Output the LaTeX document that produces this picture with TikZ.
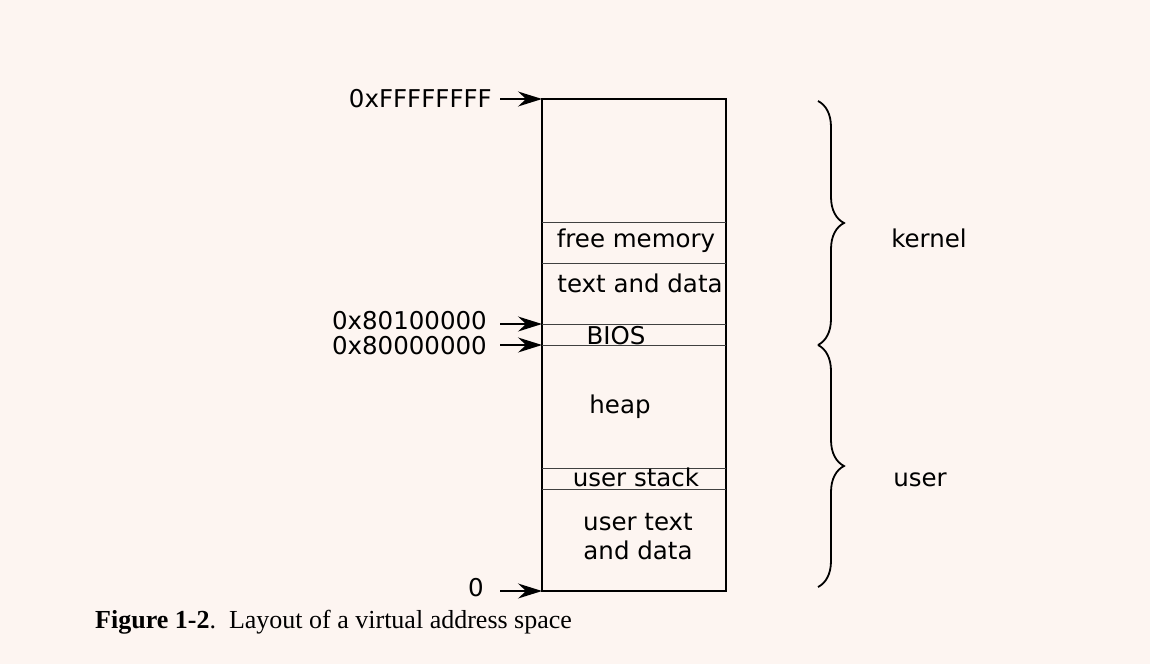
\documentclass[tikz,border=0pt]{standalone}
\usepackage{fontspec}
\setmainfont{DejaVu Sans}
\newfontfamily\capfont{Liberation Serif}
\usetikzlibrary{arrows.meta,decorations.pathreplacing}
\definecolor{bgc}{HTML}{FDF5F1}
\tikzset{
  lbl/.style={font=\fontsize{24.5}{26}\selectfont, inner sep=0pt},
  addr/.style={lbl, anchor=east},
  ptr/.style={-{Stealth[length=24pt,width=15pt,inset=8pt]}, line width=1.3pt},
  sep/.style={line width=0.7pt, draw=black!75},
  brc/.style={decorate, decoration={brace, amplitude=26pt}, line width=1.8pt},
}
\begin{document}
\begin{tikzpicture}[x=1pt,y=-1pt]
\fill[bgc] (0,0) rectangle (1150,664);
\useasboundingbox (0,0) rectangle (1150,664);
% memory box
\draw[line width=1.2pt] (542,99) rectangle (726,591);
\draw[sep] (542,222) -- (726,222);
\draw[sep] (542,263) -- (726,263);
\draw[sep] (542,324) -- (726,324);
\draw[sep] (542,345) -- (726,345);
\draw[sep] (542,468) -- (726,468);
\draw[sep] (542,489) -- (726,489);
% box coordinates
\coordinate (pTop) at (542,99);
\coordinate (p801) at (542,324);
\coordinate (p800) at (542,345);
\coordinate (p0) at (542,591);
% labels in box
\node[lbl] (free) at (636,241) {free memory};
\node[lbl] (ktext) at (640,283) {text and data};
\node[lbl] (bios) at (616,336) {BIOS};
\node[lbl] (heap) at (620,407) {heap};
\node[lbl] (ustack) at (636,477) {user stack};
\node[lbl, align=center] (utext) at (638,537) {user text\\[3pt]and data};
% address labels
\node[addr] (aTop) at (492,99) {0xFFFFFFFF};
\node[addr] (a801) at (487,321) {0x80100000};
\node[addr] (a800) at (487,346) {0x80000000};
\node[addr] (a0) at (484,588) {0};
% pointers
\coordinate (sTop) at (500,99);
\coordinate (s801) at (500,324);
\coordinate (s800) at (500,345);
\coordinate (s0) at (500,591);
\draw[ptr] (sTop) -- (pTop);
\draw[ptr] (s801) -- (p801);
\draw[ptr] (s800) -- (p800);
\draw[ptr] (s0) -- (p0);
% braces
\coordinate (kb1) at (818,101);
\coordinate (kb2) at (818,345);
\coordinate (ub1) at (818,345);
\coordinate (ub2) at (818,587);
\draw[brc] (kb1) -- (kb2);
\draw[brc] (ub1) -- (ub2);
\node[lbl] (kernel) at (929,238) {kernel};
\node[lbl] (user) at (920,480) {user};
% caption
\node[anchor=west, inner sep=0pt, font=\capfont\fontsize{26}{28}\selectfont] (cap) at (95,622) {\textbf{Figure 1-2}.\hspace{0.5em}Layout of a virtual address space};
\end{tikzpicture}
\end{document}
